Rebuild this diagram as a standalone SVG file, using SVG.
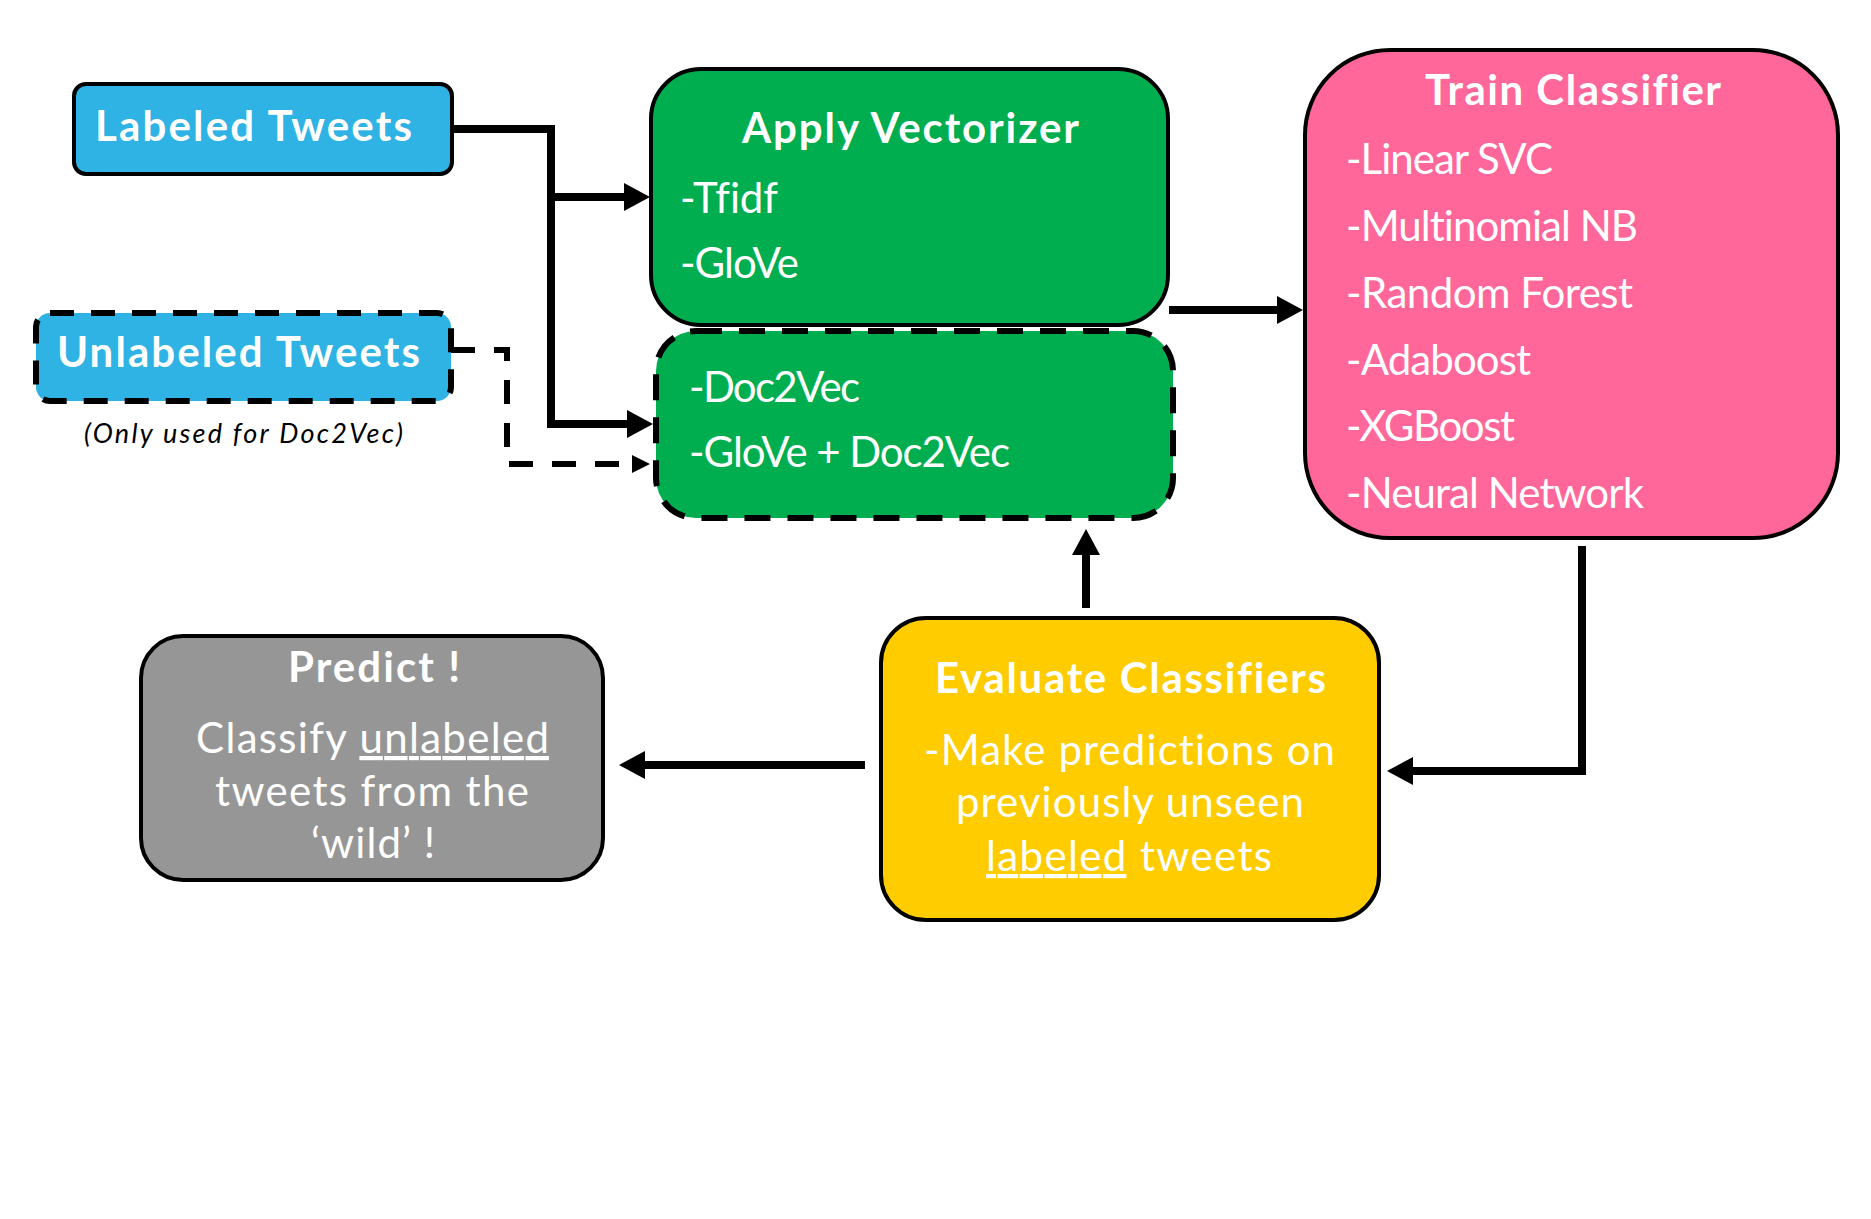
<svg xmlns="http://www.w3.org/2000/svg" width="1871" height="1219" viewBox="0 0 1871 1219">
<style>
  .box { stroke: #000; stroke-width: 4; }
  .dbox { stroke: #000; stroke-width: 6; stroke-dasharray: 26 17; }
  text { font-variant-ligatures: none; font-feature-settings: "liga" 0, "clig" 0; }
  .t { font-family: Lato, "Liberation Sans", sans-serif; fill: #fff; }
  .b { font-weight: bold; font-size: 42px; }
  .r { font-weight: normal; font-size: 42px; }
  .note { font-family: Lato, "Liberation Sans", sans-serif; font-style: italic; font-size: 27px; fill: #000; }
  .c { fill: none; stroke: #000; stroke-width: 8; stroke-linejoin: miter; }
  .cd { fill: none; stroke: #000; stroke-width: 6; stroke-dasharray: 24 19; }
  .u { text-decoration: underline; }
</style>
<defs>
  <marker id="ah" markerUnits="userSpaceOnUse" markerWidth="27" markerHeight="28" refX="0" refY="14" orient="auto">
    <path d="M0,0 L26,14 L0,28 z" fill="#000"/>
  </marker>
  <marker id="ahs" markerUnits="userSpaceOnUse" markerWidth="19" markerHeight="18" refX="0" refY="9" orient="auto">
    <path d="M0,0 L18,9 L0,18 z" fill="#000"/>
  </marker>
</defs>
<rect width="1871" height="1219" fill="#fff"/>

<g id="connectors">
  <path class="c" d="M451,129 H551 V424 H627" marker-end="url(#ah)"/>
  <path class="c" d="M551,197 H624" marker-end="url(#ah)"/>
  <path class="cd" d="M451,350 H507 V464 H632" marker-end="url(#ahs)"/>
  <path class="c" d="M1169,310 H1277" marker-end="url(#ah)"/>
  <path class="c" d="M1582,546 V771 H1413" marker-end="url(#ah)"/>
  <path class="c" d="M1086,608 V555" marker-end="url(#ah)"/>
  <path class="c" d="M865,765 H645" marker-end="url(#ah)"/>
</g>

<g id="labeled-tweets">
  <rect class="box" x="74" y="84" width="378" height="90" rx="12" fill="#2FB2E4"/>
  <text class="t b" x="95" y="141" textLength="317">Labeled Tweets</text>
</g>

<g id="unlabeled-tweets">
  <rect class="dbox" x="36" y="313" width="415" height="88" rx="14" fill="#2FB2E4" style="stroke-dasharray:24 17"/>
  <text class="t b" x="57" y="367" textLength="363">Unlabeled Tweets</text>
  <text class="note" x="84" y="443" textLength="319">(Only used for Doc2Vec)</text>
</g>

<g id="apply-vectorizer">
  <rect class="box" x="651" y="69" width="517" height="256" rx="50" fill="#00AD4F"/>
  <text class="t b" x="742" y="143" textLength="337">Apply Vectorizer</text>
  <text class="t r" x="680" y="213" textLength="98">-Tfidf</text>
  <text class="t r" x="680" y="278" textLength="119">-GloVe</text>
</g>

<g id="vectorizer-doc2vec">
  <rect class="dbox" x="656" y="331" width="517" height="187" rx="40" fill="#00AD4F"/>
  <text class="t r" x="689" y="402" textLength="171">-Doc2Vec</text>
  <text class="t r" x="689" y="467" textLength="321">-GloVe + Doc2Vec</text>
</g>

<g id="train-classifier">
  <rect class="box" x="1305" y="50" width="533" height="488" rx="85" fill="#FF6699"/>
  <text class="t b" x="1425" y="105" textLength="296">Train Classifier</text>
  <text class="t r" x="1346" y="174" textLength="207">-Linear SVC</text>
  <text class="t r" x="1346" y="241" textLength="292">-Multinomial NB</text>
  <text class="t r" x="1346" y="308" textLength="287">-Random Forest</text>
  <text class="t r" x="1346" y="375" textLength="185">-Adaboost</text>
  <text class="t r" x="1346" y="441" textLength="169">-XGBoost</text>
  <text class="t r" x="1346" y="508" textLength="298">-Neural Network</text>
</g>

<g id="evaluate-classifiers">
  <rect class="box" x="881" y="618" width="498" height="302" rx="45" fill="#FFCC00"/>
  <text class="t b" x="935" y="693" textLength="391">Evaluate Classifiers</text>
  <text class="t r" x="924" y="765" textLength="411">-Make predictions on</text>
  <text class="t r" x="956" y="817" textLength="348">previously unseen</text>
  <text class="t r" x="986" y="871" textLength="286"><tspan class="u">labeled</tspan> tweets</text>
</g>

<g id="predict">
  <rect class="box" x="141" y="636" width="462" height="244" rx="42" fill="#969696"/>
  <text class="t b" x="288" y="682" textLength="172">Predict !</text>
  <text class="t r" x="196" y="753" textLength="353">Classify <tspan class="u">unlabeled</tspan></text>
  <text class="t r" x="215" y="806" textLength="314">tweets from the</text>
  <text class="t r" x="311" y="858" textLength="124">‘wild’ !</text>
</g>
</svg>
